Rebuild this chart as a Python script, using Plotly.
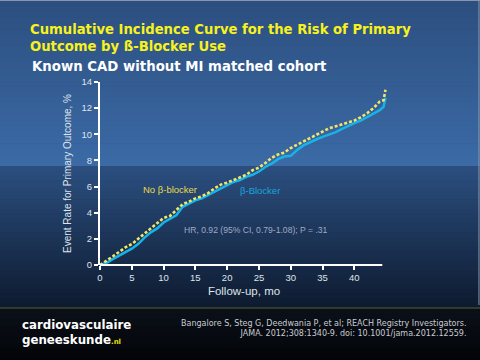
import plotly.graph_objects as go

# ---- data ----
months = [0, 1, 2, 3, 4, 5, 6, 7, 8, 9, 10, 11, 12, 13, 14, 15, 16, 17, 18, 19, 20, 21, 22,
          23, 24, 25, 26, 27, 28, 29, 30, 31, 32, 33, 34, 35, 36, 37, 38, 39, 40, 41, 42, 43, 44, 44.6, 44.9]
beta_blocker = [0, 0.15, 0.45, 0.7, 1.0, 1.25, 1.6, 2.1, 2.5, 2.8, 3.25, 3.5, 3.8, 4.45, 4.7, 4.95, 5.1,
                5.35, 5.6, 5.85, 6.1, 6.35, 6.5, 6.75, 6.9, 7.15, 7.5, 7.75, 8.1, 8.3, 8.35, 8.8, 9.15, 9.4,
                9.6, 9.8, 9.95, 10.15, 10.4, 10.65, 10.85, 11.05, 11.3, 11.6, 11.85, 12.1, 12.8]
no_beta_blocker = [0, 0.3, 0.65, 1.0, 1.35, 1.6, 2.0, 2.4, 2.8, 3.2, 3.6, 3.75, 4.2, 4.65, 4.85, 5.1, 5.25,
                   5.5, 5.85, 6.15, 6.3, 6.5, 6.65, 6.9, 7.25, 7.45, 7.8, 8.2, 8.45, 8.6, 8.95, 9.2, 9.45,
                   9.75, 9.95, 10.2, 10.45, 10.6, 10.75, 10.9, 11.05, 11.3, 11.6, 12.0, 12.5, 12.6, 13.4]
x_ticks = [0, 5, 10, 15, 20, 25, 30, 35, 40]
y_ticks = [0, 2, 4, 6, 8, 10, 12, 14]

# plot area in pixels (x axis runs slightly past the drawn axis line so the curve end shows)
X_MAX = 45.3
L, T, B = 100, 82, 265
R = L + 6.35 * X_MAX
PW, PH = R - L, B - T


def px(x):
    return (x - L) / PW


def py(y):
    return (B - y) / PH


fig = go.Figure()
fig.add_trace(go.Scatter(x=months, y=beta_blocker, mode="lines",
                         line=dict(color="#19b2e6", width=2.5), name="β-Blocker"))
fig.add_trace(go.Scatter(x=months, y=no_beta_blocker, mode="lines",
                         line=dict(color="#f2e66a", width=2.6, dash="3px,2px"), name="No β-blocker"))


def lerp(c1, c2, t):
    a = [int(c1[i:i + 2], 16) for i in (1, 3, 5)]
    b = [int(c2[i:i + 2], 16) for i in (1, 3, 5)]
    return "rgb(%d,%d,%d)" % tuple(round(a[k] + (b[k] - a[k]) * t) for k in range(3))


shapes = []


def band(y0, y1, c0, c1, n):
    for i in range(n):
        ya = y0 + (y1 - y0) * i / n
        yb = y0 + (y1 - y0) * (i + 1) / n + 0.6
        shapes.append(dict(type="rect", xref="paper", yref="paper", x0=px(-5), x1=px(490),
                           y0=py(yb), y1=py(ya), line=dict(width=0),
                           fillcolor=lerp(c0, c1, (i + 0.5) / n), layer="below"))


band(-5, 166, "#2c4e7e", "#3b6aa6", 30)
band(166, 308, "#2b4f80", "#0e1a2f", 30)
band(308, 365, "#0b1019", "#020305", 10)
shapes.append(dict(type="line", xref="paper", yref="paper", x0=px(-5), x1=px(490),
                   y0=py(308), y1=py(308), line=dict(color="#3c4a2e", width=1.5)))
# thin frame at top and right edges
shapes.append(dict(type="line", xref="paper", yref="paper", x0=px(0), x1=px(480),
                   y0=py(0.5), y1=py(0.5), line=dict(color="#8796ab", width=1)))
shapes.append(dict(type="line", xref="paper", yref="paper", x0=px(478.5), x1=px(478.5),
                   y0=py(0), y1=py(305), line=dict(color="#8796ab", width=1)))
# drawn x-axis line (ends at 44.4 mo like the reference)
shapes.append(dict(type="line", xref="x", yref="paper", x0=0, x1=44.4, y0=0, y1=0,
                   line=dict(color="#ffffff", width=2)))
fig.update_layout(shapes=shapes)

ann = []
ann.append(dict(text="<b>Cumulative Incidence Curve for the Risk of Primary<br>Outcome by ß-Blocker Use</b>",
                x=px(28), y=py(20), xref="paper", yref="paper", xanchor="left", yanchor="top",
                showarrow=False, align="left", font=dict(family="DejaVu Sans", size=13.2, color="#f7f21c")))
ann.append(dict(text="<b>Known CAD without MI matched cohort</b>",
                x=px(30), y=py(57), xref="paper", yref="paper", xanchor="left", yanchor="top",
                showarrow=False, font=dict(family="DejaVu Sans", size=13.3, color="#ffffff")))
ann.append(dict(text="No β-blocker", x=11.0, y=5.74, xref="x", yref="y", showarrow=False,
                font=dict(family="Liberation Sans", size=9.5, color="#e8dc4a")))
ann.append(dict(text="β-Blocker", x=25.1, y=5.7, xref="x", yref="y", showarrow=False,
                font=dict(family="Liberation Sans", size=9.5, color="#1ca4dc")))
ann.append(dict(text="HR, 0.92 (95% CI, 0.79-1.08); P = .31", x=24.6, y=2.68, xref="x", yref="y",
                showarrow=False, font=dict(family="Liberation Sans", size=8.6, color="#9fabc2")))
ann.append(dict(text="<b>cardiovasculaire<br>geneeskunde</b><span style='font-size:7px;color:#e8e000'><b>.nl</b></span>",
                x=px(20), y=py(316), xref="paper", yref="paper", xanchor="left", yanchor="top",
                showarrow=False, align="left", font=dict(family="DejaVu Sans", size=11.8, color="#ffffff")))
ann.append(dict(text="Bangalore S, Steg G, Deedwania P, et al; REACH Registry Investigators.<br>"
                     "JAMA. 2012;308:1340-9. doi: 10.1001/jama.2012.12559.",
                x=px(469), y=py(317), xref="paper", yref="paper", xanchor="right", yanchor="top",
                showarrow=False, align="right", font=dict(family="DejaVu Sans", size=8.0, color="#c8ccd2")))
fig.update_layout(annotations=ann)

axis_font = dict(family="Liberation Sans", size=9.5, color="#dfe4ea")
fig.update_layout(
    width=480, height=360,
    margin=dict(l=L, r=480 - R, t=T, b=360 - B),
    paper_bgcolor="#1c3050", plot_bgcolor="rgba(0,0,0,0)",
    showlegend=False,
    xaxis=dict(range=[0, X_MAX], tickvals=x_ticks, ticks="outside", ticklen=4, tickwidth=1.5,
               tickcolor="#ffffff", showline=False,
               showgrid=False, zeroline=False, tickfont=axis_font,
               title=dict(text="Follow-up, mo", font=dict(family="Liberation Sans", size=11.5, color="#dfe4ea"),
                          standoff=4)),
    yaxis=dict(range=[0, 14], tickvals=y_ticks, ticks="outside", ticklen=4, tickwidth=1.5,
               tickcolor="#ffffff", showline=True, linecolor="#ffffff", linewidth=2,
               showgrid=False, zeroline=False, tickfont=axis_font,
               title=dict(text="Event Rate for Primary Outcome, %",
                          font=dict(family="Liberation Sans", size=10, color="#dfe4ea"), standoff=8)),
)

fig.write_html("out.html", config={"displayModeBar": False},
               post_script="document.body.style.margin='0';document.body.style.overflow='hidden';")
